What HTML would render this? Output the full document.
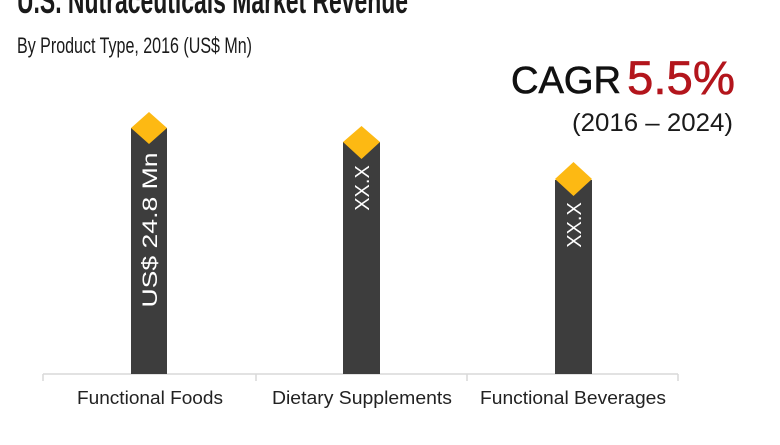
<!DOCTYPE html>
<html><head><meta charset="utf-8"><style>
body{margin:0;width:780px;height:440px;background:#fff;overflow:hidden;font-family:"Liberation Sans",sans-serif;}
</style></head><body>
<svg width="780" height="440" xmlns="http://www.w3.org/2000/svg" font-family="Liberation Sans, sans-serif">
<text x="17" y="13" font-size="36" font-weight="bold" fill="#1a1a1a" textLength="391" lengthAdjust="spacingAndGlyphs">U.S. Nutraceuticals Market Revenue</text>
<text x="17" y="53" font-size="22" fill="#1a1a1a" textLength="235" lengthAdjust="spacingAndGlyphs">By Product Type, 2016 (US$ Mn)</text>
<text x="511" y="93" font-size="38" fill="#111" textLength="110" lengthAdjust="spacingAndGlyphs" stroke="#111" stroke-width="0.6">CAGR</text>
<text x="627" y="94" font-size="47" fill="#b3151c" textLength="108" lengthAdjust="spacingAndGlyphs" stroke="#b3151c" stroke-width="0.6">5.5%</text>
<text x="572" y="131" font-size="25" fill="#1a1a1a" textLength="161" lengthAdjust="spacingAndGlyphs">(2016 – 2024)</text>
<line x1="43" y1="374" x2="678" y2="374" stroke="#d9d9d9" stroke-width="1.5"/>
<g stroke="#d9d9d9" stroke-width="1.5"><line x1="43" y1="374" x2="43" y2="381"/><line x1="256" y1="374" x2="256" y2="381"/><line x1="467" y1="374" x2="467" y2="381"/><line x1="678" y1="374" x2="678" y2="381"/></g>
<rect x="131" y="128" width="36" height="246" fill="#3d3d3d"/>
<rect x="343" y="142" width="37" height="232" fill="#3d3d3d"/>
<rect x="555" y="180" width="37" height="194" fill="#3d3d3d"/>
<polygon points="149,112 167,128 149,144 131,128" fill="#fdb913"/>
<polygon points="361.5,126 380,142 361.5,159 343,142" fill="#fdb913"/>
<polygon points="573.5,162 592,179 573.5,196 555,179" fill="#fdb913"/>
<text transform="translate(157,230) rotate(-90)" text-anchor="middle" font-size="21" fill="#fff" textLength="155" lengthAdjust="spacingAndGlyphs">US$ 24.8 Mn</text>
<text transform="translate(369,188) rotate(-90)" text-anchor="middle" font-size="20" fill="#fff">XX.X</text>
<text transform="translate(581,225) rotate(-90)" text-anchor="middle" font-size="20" fill="#fff">XX.X</text>
<text x="77" y="404" font-size="18" fill="#222" textLength="146" lengthAdjust="spacingAndGlyphs">Functional Foods</text>
<text x="272" y="404" font-size="18" fill="#222" textLength="180" lengthAdjust="spacingAndGlyphs">Dietary Supplements</text>
<text x="480" y="404" font-size="18" fill="#222" textLength="186" lengthAdjust="spacingAndGlyphs">Functional Beverages</text>
</svg>
</body></html>
